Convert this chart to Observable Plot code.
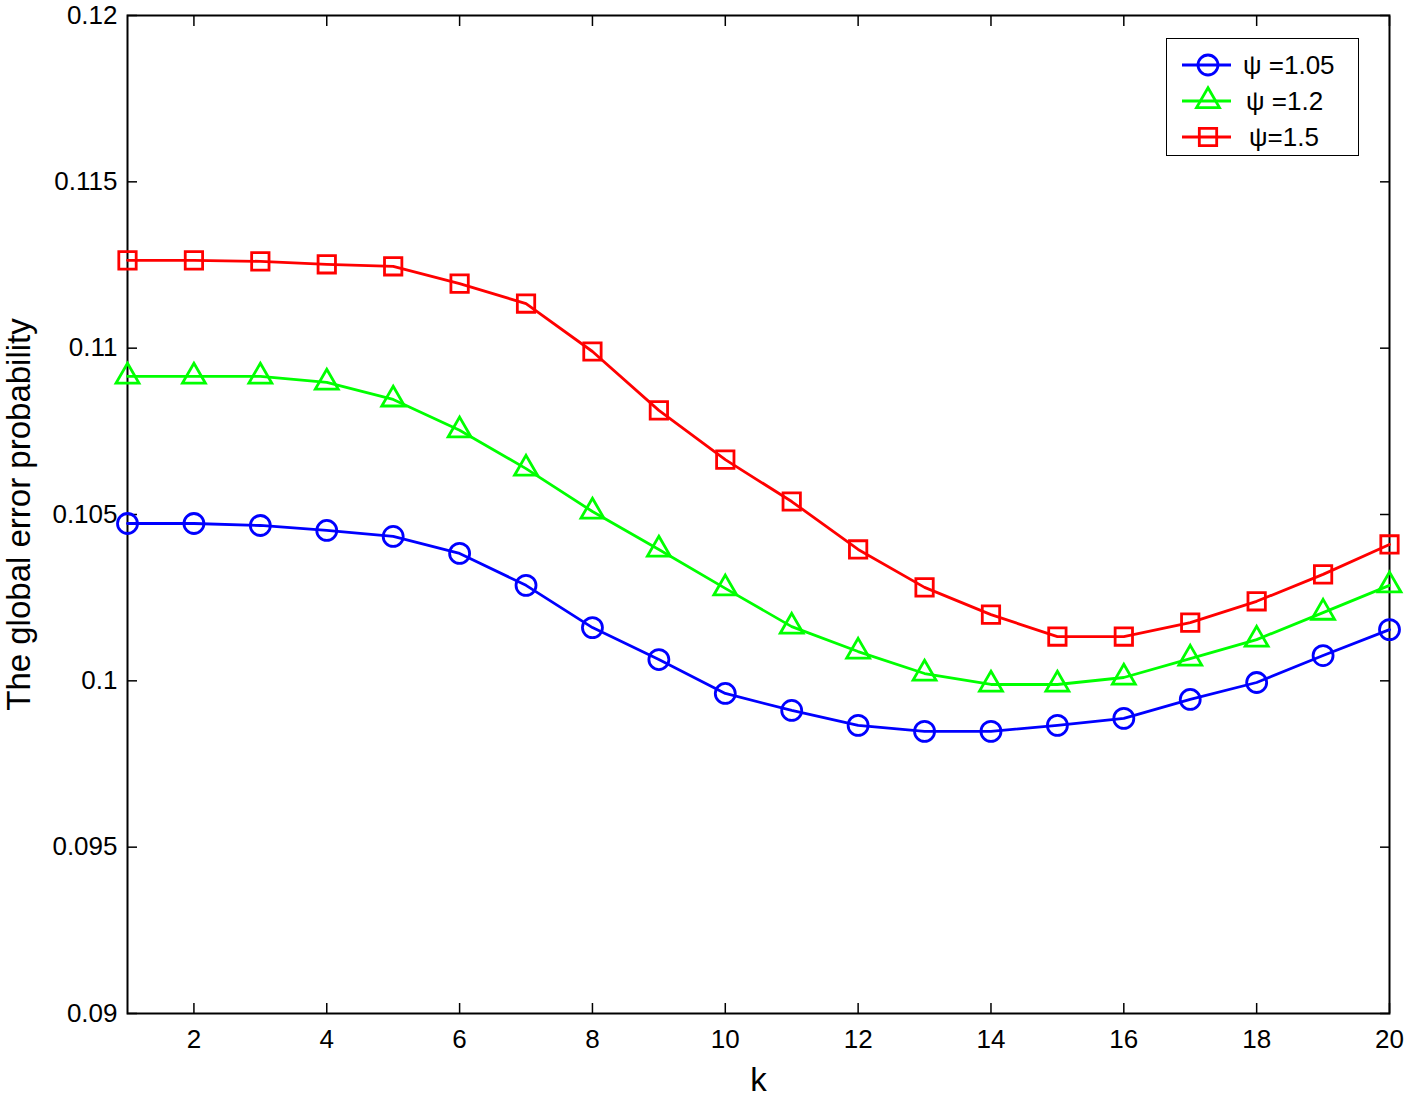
<!DOCTYPE html>
<html>
<head>
<meta charset="utf-8">
<script src="https://cdn.jsdelivr.net/npm/d3@7"></script>
<script src="https://cdn.jsdelivr.net/npm/@observablehq/plot@0.6"></script>
<style>
  html, body { margin: 0; padding: 0; background: #fff; }
  #wrap { position: relative; width: 1419px; height: 1099px; font-family: "Liberation Sans", Arial, Helvetica, sans-serif; }
  #legend { position: absolute; left: 1166px; top: 38px; width: 191px; height: 116px; border: 1.5px solid #000; background: #fff; }
  .row { position: absolute; left: 0; height: 36px; display: flex; align-items: center; }
  .row svg { display: block; }
  .row span { font-size: 26px; color: #000; white-space: pre; }
</style>
</head>
<body>
<div id="wrap"></div>
<script>
const kValues = d3.range(1, 21);
const seriesNames = ["ψ =1.05", "ψ =1.2", "ψ=1.5"];
const seriesColors = ["#0000ff", "#00ff00", "#ff0000"];
const seriesSymbols = ["circle", "triangle", "square"];
const psi105 = [0.10473, 0.10473, 0.10467, 0.10452, 0.10434, 0.10383, 0.10287, 0.10160, 0.10064, 0.09962,
                0.09911, 0.09866, 0.09848, 0.09848, 0.09866, 0.09887, 0.09944, 0.09995, 0.10076, 0.10154];
const psi12  = [0.10915, 0.10915, 0.10915, 0.10897, 0.10846, 0.10753, 0.10638, 0.10509, 0.10395, 0.10278,
                0.10163, 0.10088, 0.10022, 0.09989, 0.09989, 0.10010, 0.10067, 0.10124, 0.10205, 0.10287];
const psi15  = [0.11264, 0.11264, 0.11261, 0.11252, 0.11246, 0.11194, 0.11134, 0.10990, 0.10813, 0.10665,
                0.10539, 0.10395, 0.10281, 0.10199, 0.10133, 0.10133, 0.10175, 0.10239, 0.10320, 0.10410];
const xTicks = [2, 4, 6, 8, 10, 12, 14, 16, 18, 20];
const yTicks = [0.09, 0.095, 0.1, 0.105, 0.11, 0.115, 0.12];
const xLabel = "k";
const yLabel = "The global error probability";

const allSeries = [psi105, psi12, psi15];
const data = allSeries.flatMap((vals, i) => vals.map((v, j) => ({k: kValues[j], p: v, s: seriesNames[i]})));

const fmt = d => String(+d.toFixed(3));
const font = "Liberation Sans, Arial, Helvetica, sans-serif";

const marks = [
  Plot.frame({stroke: "black", strokeWidth: 2}),
  // inward ticks on all four sides
  Plot.axisX(xTicks, {anchor: "bottom", tickSize: -10, tickFormat: () => "", label: null, strokeWidth: 1.5}),
  Plot.axisX(xTicks, {anchor: "top", tickSize: -10, tickFormat: () => "", label: null, strokeWidth: 1.5}),
  Plot.axisY(yTicks, {anchor: "left", tickSize: -10, tickFormat: () => "", label: null, strokeWidth: 1.5}),
  Plot.axisY(yTicks, {anchor: "right", tickSize: -10, tickFormat: () => "", label: null, strokeWidth: 1.5}),
  // tick labels
  Plot.axisX(xTicks, {anchor: "bottom", tickSize: 0, tickPadding: 16, tickFormat: d => String(d), label: null, fontSize: 26, fill: "black"}),
  Plot.axisY(yTicks, {anchor: "left", tickSize: 0, tickPadding: 10, tickFormat: fmt, label: null, fontSize: 26, fill: "black"}),
  // axis titles
  Plot.text([xLabel], {frameAnchor: "bottom", text: d => d, dy: 77, fontSize: 33, fill: "black"}),
  Plot.text([yLabel], {frameAnchor: "left", text: d => d, textAnchor: "middle", dx: -108, rotate: -90, fontSize: 33, fill: "black"})
];

seriesNames.forEach((name, i) => {
  const sub = data.filter(d => d.s === name);
  marks.push(Plot.line(sub, {x: "k", y: "p", stroke: seriesColors[i], strokeWidth: 2.8}));
  marks.push(Plot.dot(sub, {x: "k", y: "p", stroke: seriesColors[i], fill: "none", strokeWidth: 2.8,
    symbol: seriesSymbols[i], r: seriesSymbols[i] === "triangle" ? 8.5 : (seriesSymbols[i] === "square" ? 9.8 : 10)}));
});

const chart = Plot.plot({
  width: 1419,
  height: 1099,
  marginLeft: 127,
  marginRight: 30,
  marginTop: 15,
  marginBottom: 86,
  style: {fontFamily: font, background: "white", color: "black", overflow: "visible"},
  x: {domain: [1, 20], axis: null},
  y: {domain: [0.09, 0.12], axis: null},
  marks
});

const wrap = document.getElementById("wrap");
wrap.appendChild(chart);

// legend
const legend = document.createElement("div");
legend.id = "legend";
const textLeft = [76, 79, 82];
seriesNames.forEach((name, i) => {
  const row = document.createElement("div");
  row.className = "row";
  row.style.top = (8 + i * 36) + "px";
  const svg = d3.create("svg").attr("width", 70).attr("height", 36);
  svg.append("line").attr("x1", 15).attr("x2", 64).attr("y1", 18).attr("y2", 18)
    .attr("stroke", seriesColors[i]).attr("stroke-width", 2.8);
  const sym = {circle: d3.symbolCircle, triangle: d3.symbolTriangle, square: d3.symbolSquare}[seriesSymbols[i]];
  const r = seriesSymbols[i] === "triangle" ? 8.5 : (seriesSymbols[i] === "square" ? 9.8 : 10);
  svg.append("path").attr("d", d3.symbol(sym, Math.PI * r * r)())
    .attr("transform", `translate(41,18)`)
    .attr("fill", "none").attr("stroke", seriesColors[i]).attr("stroke-width", 2.8);
  row.appendChild(svg.node());
  const span = document.createElement("span");
  span.textContent = name;
  span.style.marginLeft = (textLeft[i] - 70) + "px";
  row.appendChild(span);
  legend.appendChild(row);
});
wrap.appendChild(legend);
</script>
</body>
</html>
